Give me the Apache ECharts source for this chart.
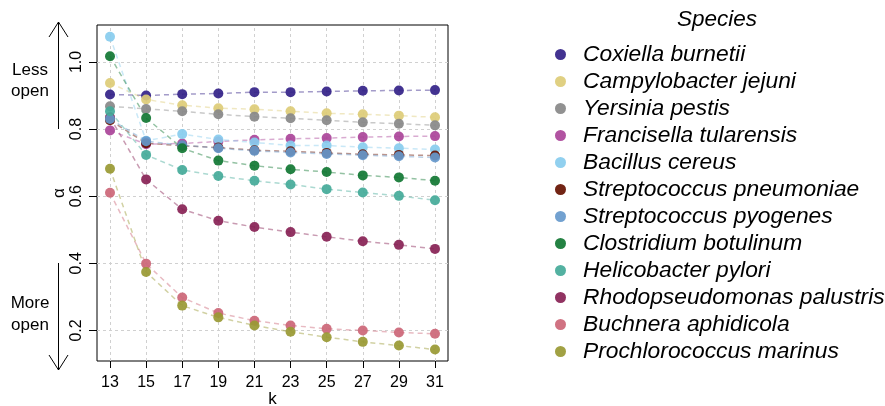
<!DOCTYPE html>
<html><head><meta charset="utf-8">
<script src="https://cdn.jsdelivr.net/npm/echarts@6/dist/echarts.min.js"></script>
<style>html,body{margin:0;padding:0;background:#fff}#c{width:885px;height:406px}</style>
</head><body><div id="c"></div>
<script>
const kValues = [13,15,17,19,21,23,25,27,29,31];
const yTicks = [0.2,0.4,0.6,0.8,1.0];
const speciesNames = ["Coxiella burnetii","Campylobacter jejuni","Yersinia pestis","Francisella tularensis","Bacillus cereus","Streptococcus pneumoniae","Streptococcus pyogenes","Clostridium botulinum","Helicobacter pylori","Rhodopseudomonas palustris","Buchnera aphidicola","Prochlorococcus marinus"];
const speciesColors = ["#332288","#DDCC77","#888888","#AA4499","#88CCEE","#661100","#6699CC","#117733","#44AA99","#882255","#CC6677","#999933"];
const coxiella      = [0.903,0.900,0.904,0.906,0.910,0.910,0.912,0.914,0.915,0.916];
const campylobacter = [0.937,0.888,0.871,0.862,0.859,0.853,0.847,0.844,0.840,0.835];
const yersinia      = [0.868,0.860,0.853,0.844,0.837,0.832,0.826,0.820,0.816,0.811];
const francisella   = [0.796,0.755,0.757,0.763,0.768,0.771,0.773,0.776,0.778,0.779];
const bacillus      = [1.075,0.765,0.785,0.769,0.760,0.751,0.751,0.746,0.743,0.739];
const strepPneu     = [0.826,0.758,0.750,0.745,0.737,0.734,0.729,0.725,0.723,0.721];
const strepPyo      = [0.830,0.764,0.752,0.743,0.735,0.730,0.726,0.722,0.719,0.715];
const clostridium   = [1.017,0.833,0.743,0.706,0.691,0.680,0.672,0.662,0.656,0.646];
const helicobacter  = [0.853,0.723,0.678,0.660,0.646,0.635,0.621,0.611,0.601,0.588];
const rhodo         = [0.835,0.650,0.561,0.527,0.508,0.493,0.479,0.466,0.455,0.443];
const buchnera      = [0.610,0.399,0.298,0.252,0.229,0.215,0.205,0.200,0.194,0.190];
const prochloro     = [0.682,0.374,0.274,0.239,0.215,0.196,0.180,0.166,0.155,0.143];
const seriesValues = [coxiella,campylobacter,yersinia,francisella,bacillus,strepPneu,strepPyo,clostridium,helicobacter,rhodo,buchnera,prochloro];

const FONT = "Liberation Sans, Arial, sans-serif";
function hexA(h,a){const n=parseInt(h.slice(1),16);return `rgba(${n>>16},${(n>>8)&255},${n&255},${a})`;}

const drawOrder = [9,0,1,2,3,4,5,6,7,8,10,11];
const series = [];
series.push({
  name:'__grid', type:'line', data:[], silent:true, z:1,
  markLine:{silent:true, z:1, symbol:['none','none'], label:{show:false},
    lineStyle:{color:'#d0d0d0', type:[3,3], width:1},
    emphasis:{disabled:true},
    data: kValues.map(k=>({xAxis:k})).concat(yTicks.map(v=>({yAxis:v})))}
});
drawOrder.forEach(i=>{
  series.push({
    name: speciesNames[i], type:'line',
    data: kValues.map((k,j)=>[k, seriesValues[i][j]]),
    symbol:'circle', symbolSize:10, showSymbol:true,
    itemStyle:{color: speciesColors[i], opacity:0.92, borderWidth:0},
    lineStyle:{color: hexA(speciesColors[i],0.45), width:1.5, type:[5,4]},
    emphasis:{disabled:true}, animation:false, z:3
  });
});

const chart = echarts.init(document.getElementById('c'), null, {renderer:'canvas'});
chart.setOption({
  animation:false,
  backgroundColor:'#fff',
  grid:{left:97, top:25, width:351, height:336, show:true, borderColor:'#000', borderWidth:1, backgroundColor:'transparent', outerBoundsMode:'none', containLabel:false},
  xAxis:{type:'value', min:12.28, max:31.72,
    name:'k', nameLocation:'middle', nameGap:30, nameMoveOverlap:false,
    nameTextStyle:{fontFamily:FONT, fontSize:17, color:'#000'},
    axisLine:{show:false}, splitLine:{show:false},
    axisTick:{show:true, length:7, inside:false, customValues:kValues, lineStyle:{color:'#000'}},
    axisLabel:{customValues:kValues, fontFamily:FONT, fontSize:16, color:'#000', margin:14}
  },
  yAxis:{type:'value', min:0.109, max:1.11,
    name:'α', nameLocation:'middle', nameGap:28, nameRotate:90,
    nameTextStyle:{fontFamily:FONT, fontSize:17, color:'#000'},
    axisLine:{show:false}, splitLine:{show:false},
    axisTick:{show:true, length:8, customValues:yTicks, lineStyle:{color:'#000'}},
    axisLabel:{customValues:yTicks, rotate:90, fontFamily:FONT, fontSize:16, color:'#000', margin:12,
      formatter:v=>v.toFixed(1)}
  },
  title:{text:'Species', left:712, textAlign:'center', top:3,
    textStyle:{fontFamily:FONT, fontSize:22.5, fontStyle:'italic', fontWeight:'normal', color:'#000'}},
  legend:{orient:'vertical', left:555, top:43, data:speciesNames, icon:'circle',
    itemWidth:11, itemHeight:11, itemGap:4, selectedMode:false, padding:0,
    textStyle:{fontFamily:FONT, fontSize:22.8, fontStyle:'italic', color:'#000', lineHeight:22, padding:[0,0,0,12]}},
  graphic:[
    {type:'text', x:30, y:70, style:{text:'Less', font:'17px '+FONT, fill:'#000', textAlign:'center', textVerticalAlign:'middle'}},
    {type:'text', x:30, y:91, style:{text:'open', font:'17px '+FONT, fill:'#000', textAlign:'center', textVerticalAlign:'middle'}},
    {type:'text', x:30, y:303, style:{text:'More', font:'17px '+FONT, fill:'#000', textAlign:'center', textVerticalAlign:'middle'}},
    {type:'text', x:30, y:325, style:{text:'open', font:'17px '+FONT, fill:'#000', textAlign:'center', textVerticalAlign:'middle'}},
    {type:'line', shape:{x1:58.5,y1:22,x2:58.5,y2:129}, style:{stroke:'#000', lineWidth:1}},
    {type:'polyline', shape:{points:[[49,37],[58.5,22],[68,37]]}, style:{stroke:'#000', lineWidth:1, fill:null}},
    {type:'line', shape:{x1:58.5,y1:263,x2:58.5,y2:370}, style:{stroke:'#000', lineWidth:1}},
    {type:'polyline', shape:{points:[[49,355],[58.5,370],[68,355]]}, style:{stroke:'#000', lineWidth:1, fill:null}}
  ],
  series: series
});
</script></body></html>
